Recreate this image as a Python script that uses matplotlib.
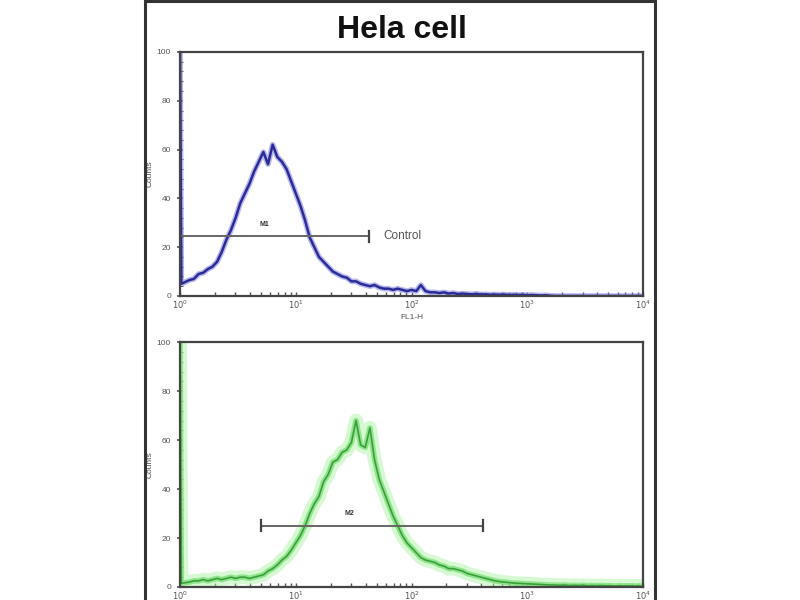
import numpy as np
import matplotlib
matplotlib.use("Agg")
import matplotlib.pyplot as plt
from matplotlib.patches import Rectangle
from matplotlib.ticker import LogLocator, MultipleLocator, FixedLocator, NullFormatter

plt.rcParams['font.family'] = ['Liberation Sans', 'DejaVu Sans']

title = "Hela cell"
x_label = "FL1-H"
y_label = "Counts"
y_ticks = [0, 20, 40, 60, 80, 100]
x_tick_exps = [0, 1, 2, 3, 4]

# channel positions in decades (log10 of FL1-H); first channel is the pile-up bin
log_channels = np.round(np.arange(0, 4.0001, 0.04), 2)
log_channels[1] = 0.012

control_counts = [104, 5, 6.5, 7, 9, 9.5, 11, 12, 14, 18,
                  23, 27, 32, 38, 42, 46, 51, 55, 59, 54,
                  62, 57, 55, 52, 47, 42, 37, 31, 24, 20,
                  16, 14, 12, 10, 9, 8, 7.5, 6, 6, 5,
                  4.5, 4, 4.5, 3.5, 3, 3, 2.5, 3, 2.5, 2,
                  2.5, 2, 4.5, 2, 1.5, 1.5, 1.2, 1.5, 1, 1.2,
                  0.8, 1, 0.8, 0.7, 0.9, 0.6, 0.7, 0.5, 0.6, 0.5,
                  0.6, 0.4, 0.5, 0.4, 0.5, 0.3, 0.4, 0.3, 0.2, 0.3,
                  0.1, 0, 0, 0, 0, 0, 0, 0, 0, 0,
                  0, 0, 0, 0, 0, 0, 0, 0, 0, 0, 0]

sample_counts = [104, 1.5, 2, 2.5, 2.5, 3, 2.5, 3, 3.5, 3,
                 3.5, 4, 3.5, 4, 4, 3.5, 4, 4.5, 5, 6.5,
                 7.5, 9, 11, 12.5, 15, 18, 21, 25, 30, 34,
                 37, 43, 46, 51, 52, 55, 56, 59, 68, 58,
                 57, 65, 52, 44, 39, 34, 29, 25, 21, 18,
                 16, 14, 12, 11, 10.5, 10, 9, 8.5, 7.5, 7.5,
                 7, 6.5, 5.5, 5, 4.5, 4, 3.5, 3, 2.5, 2.2,
                 2, 1.8, 1.6, 1.5, 1.4, 1.3, 1.2, 1.1, 1.0, 0.9,
                 0.8, 0.8, 0.7, 0.8, 0.6, 0.7, 0.6, 0.7, 0.5, 0.6,
                 0.5, 0.6, 0.5, 0.5, 0.4, 0.5, 0.4, 0.5, 0.4, 0.4, 0.3]

# markers: (start decade, end decade, level, label decade)
m1 = (0.0, 1.63, 24.5, 0.73)
m2 = (0.70, 2.62, 25.0, 1.46)

fig = plt.figure(figsize=(8, 6), dpi=100)
fig.patch.set_facecolor('white')

# outer frame
fig.patches.append(Rectangle((0.181, -0.01), 0.638, 1.008, transform=fig.transFigure,
                             fill=False, edgecolor='#333333', linewidth=2.2))

fig.text(0.502, 0.937, title, ha='center', va='baseline', fontsize=23,
         fontweight='bold', color='#111111')

ax1 = fig.add_axes([0.225, 0.5067, 0.579, 0.4067])
ax2 = fig.add_axes([0.225, 0.0217, 0.579, 0.408])

xvals = 10 ** log_channels

def style(ax, show_xlabel):
    ax.set_xscale('log')
    ax.set_xlim(1, 1e4)
    ax.set_ylim(0, 100)
    for s in ax.spines.values():
        s.set_color('#444444')
        s.set_linewidth(1.6)
    ax.xaxis.set_major_locator(FixedLocator([10 ** e for e in x_tick_exps]))
    ax.xaxis.set_minor_locator(LogLocator(base=10, subs=np.arange(2, 10)))
    ax.xaxis.set_minor_formatter(NullFormatter())
    ax.set_xticklabels([r'$10^{%d}$' % e for e in x_tick_exps])
    ax.set_yticks(y_ticks)
    ax.set_yticklabels([str(v) for v in y_ticks])
    ax.yaxis.set_minor_locator(MultipleLocator(4))
    ax.tick_params(axis='x', which='both', direction='in', length=3, width=1,
                   colors='#555555', labelsize=6, pad=2)
    ax.tick_params(axis='y', which='major', direction='inout', length=5, width=1.2,
                   colors='#555555', labelsize=6, pad=4)
    ax.tick_params(axis='y', which='minor', direction='in', length=2, width=0.8,
                   colors='#555555')
    ax.set_ylabel(y_label, fontsize=6, color='#555555', labelpad=2)
    if show_xlabel:
        ax.set_xlabel(x_label, fontsize=6, color='#555555', labelpad=2)

style(ax1, True)
style(ax2, False)

# control histogram (blue)
ax1.plot(xvals, control_counts, color='#8a8ae0', lw=4.0, alpha=0.6, solid_joinstyle='round')
ax1.plot(xvals, control_counts, color='#2b2b98', lw=1.8)

# sample histogram (green, glowing)
ax2.plot(xvals, sample_counts, color='#aef5a8', lw=10, alpha=0.5, solid_joinstyle='round')
ax2.plot(xvals, sample_counts, color='#7fe07a', lw=4, alpha=0.8, solid_joinstyle='round')
ax2.plot(xvals, sample_counts, color='#3a9f3a', lw=1.2)

def marker(ax, m, label, extra=None):
    a, b, lvl, lab = m
    ax.plot([10 ** a, 10 ** b], [lvl, lvl], color='#666666', lw=1.4, zorder=5)
    for e in (a, b):
        ax.plot([10 ** e, 10 ** e], [lvl - 2.2, lvl + 2.2], color='#444444', lw=1.6, zorder=5)
    ax.text(10 ** lab, lvl + 3.5, label, fontsize=5, color='#333333', ha='center', va='bottom',
            fontweight='bold')
    if extra:
        ax.text(10 ** (b + 0.13), lvl, extra, fontsize=8.5, color='#555555',
                ha='left', va='center')

marker(ax1, m1, 'M1', 'Control')
marker(ax2, m2, 'M2')

fig.savefig('out.png', dpi=100, facecolor='white')
